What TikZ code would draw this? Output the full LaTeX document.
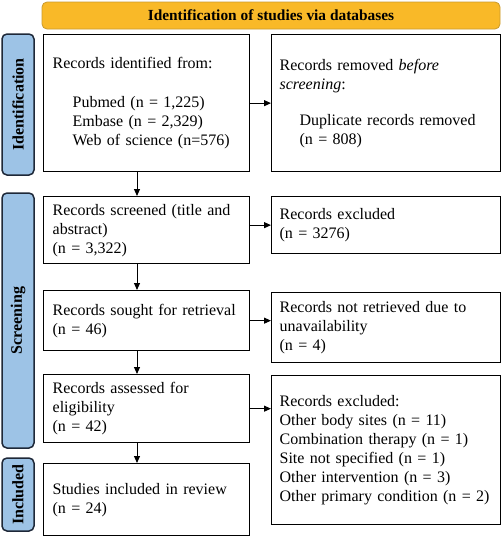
\documentclass[tikz,border=0pt]{standalone}
\usepackage{fontspec}
\setmainfont{Liberation Serif}
\usepackage{xcolor}
\usepackage{tikz}
\usetikzlibrary{arrows.meta, positioning, calc}

\definecolor{bannerfill}{HTML}{F9B928}
\definecolor{bannerdraw}{HTML}{C99A2E}
\definecolor{stagefill}{HTML}{9DC3E6}
\definecolor{stagedraw}{HTML}{1E2838}

\begin{document}
\begin{tikzpicture}[x=1pt, y=-1pt,
  leftbox/.style={rectangle, draw=black, line width=1.3pt, anchor=north west,
                  minimum width=206pt, text width=188pt, inner xsep=9pt, inner ysep=2pt,
                  align=left, font=\fontsize{16}{19}\selectfont},
  rightbox/.style={leftbox, minimum width=229pt, text width=213pt, inner xsep=8pt},
  stage/.style={rectangle, rounded corners=5pt, draw=stagedraw, fill=stagefill,
                line width=1.5pt, rotate=90, minimum height=32pt,
                font=\fontsize{16}{18}\selectfont\bfseries},
  banner/.style={rectangle, rounded corners=5pt, draw=bannerdraw, fill=bannerfill,
                 line width=0.8pt, minimum width=458pt, minimum height=27pt,
                 font=\fontsize{15.4}{18}\selectfont\bfseries},
  arrow/.style={-{Triangle[length=7pt,width=6pt]}, line width=1pt}
]
\useasboundingbox (0,0) rectangle (501,536);

%% Banner and stages
\node[banner] (top) at (271,15.5) {Identification of studies via databases};
\node[stage, minimum width=141pt] (s1) at (18,104.5) {Identification};
\node[stage, minimum width=255pt] (s2) at (18,320.5) {Screening};
\node[stage, minimum width=73pt]  (s3) at (18,494.5) {Included};

%% Main column
\node[leftbox, minimum height=137pt] (A) at (43,34)
  {Records identified from:\\[20pt]
   \hspace*{20pt}Pubmed (n = 1,225)\\
   \hspace*{20pt}Embase (n = 2,329)\\
   \hspace*{20pt}Web of science (n=576)};
\node[leftbox, minimum height=67pt] (C) at (43,196)
  {Records screened (title and\\abstract)\\(n = 3,322)};
\node[leftbox, minimum height=60pt] (E) at (43,290)
  {Records sought for retrieval\\(n = 46)};
\node[leftbox, minimum height=68pt] (G) at (43,374)
  {Records assessed for\\eligibility\\(n = 42)};
\node[leftbox, minimum height=72pt] (I) at (43,463)
  {Studies included in review\\(n = 24)};

%% Side column
\node[rightbox, minimum height=137pt] (B) at (271,34)
  {Records removed \textit{before}\\\textit{screening}:\\[17pt]
   \hspace*{20pt}Duplicate records removed\\
   \hspace*{20pt}(n = 808)};
\node[rightbox, minimum height=57pt] (D) at (271,196)
  {Records excluded\\(n = 3276)};
\node[rightbox, minimum height=70pt] (F) at (271,292)
  {Records not retrieved due to\\unavailability\\(n = 4)};
\node[rightbox, minimum height=149pt] (H) at (271,375)
  {Records excluded:\\
   Other body sites (n = 11)\\
   Combination therapy (n = 1)\\
   Site not specified (n = 1)\\
   Other intervention (n = 3)\\
   Other primary condition (n = 2)};

%% Arrows
\coordinate (spine) at (137,0);
\draw[arrow] (A.south -| spine) -- (C.north -| spine);
\draw[arrow] (C.south -| spine) -- (E.north -| spine);
\draw[arrow] (E.south -| spine) -- (G.north -| spine);
\draw[arrow] (G.south -| spine) -- (I.north -| spine);
\draw[arrow] (A.east) -- (B.west);
\draw[arrow] (C.east |- D.west) -- (D.west);
\draw[arrow] (E.east) -- (E.east -| F.west);
\draw[arrow] (G.east) -- (G.east -| H.west);
\end{tikzpicture}
\end{document}
